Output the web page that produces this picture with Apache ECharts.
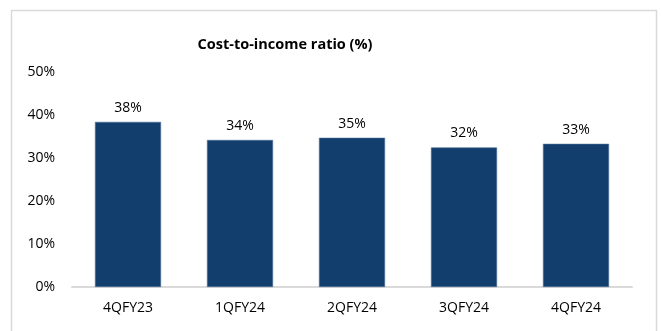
<!DOCTYPE html>
<html><head><meta charset="utf-8">
<script src="https://cdn.jsdelivr.net/npm/echarts@6/dist/echarts.min.js"></script>
<style>html,body{margin:0;padding:0;background:#fff}#c{width:662px;height:331px}</style>
</head><body><div id="c"></div>
<script>
const categories = ['4QFY23','1QFY24','2QFY24','3QFY24','4QFY24'];
const costToIncome = [38.4, 34.2, 34.7, 32.45, 33.3];
const yTicks = [0, 10, 20, 30, 40, 50];
const FONT = '"Open Sans", sans-serif';
const chart = echarts.init(document.getElementById('c'));
chart.setOption({
  animation: false,
  backgroundColor: '#fff',
  graphic: [{type:'rect', shape:{x:11.5,y:10.5,width:645,height:340}, style:{fill:'none', stroke:'#D9D9D9', lineWidth:1.5}, silent:true}],
  title: {text:'Cost-to-income ratio (%)', left:280, top:32, textAlign:'center',
    textStyle:{fontFamily:FONT, fontSize:14.5, fontWeight:'bold', color:'#000'}},
  grid: {left:72, right:30, top:72, bottom:44},
  xAxis: {type:'category', data:categories,
    axisLine:{lineStyle:{color:'#D9D9D9', width:2}}, axisTick:{show:false},
    axisLabel:{fontFamily:FONT, fontSize:14, color:'#000', margin:14}},
  yAxis: {type:'value', min:yTicks[0], max:yTicks[yTicks.length-1], interval:10,
    splitLine:{show:false}, axisLine:{show:false}, axisTick:{show:false},
    axisLabel:{fontFamily:FONT, fontSize:14, color:'#000', margin:17, formatter: v => v + '%'}},
  series: [{type:'bar', data:costToIncome, barWidth:'59%',
    itemStyle:{color:'#113E6D', borderColor:'#4F6F96', borderWidth:0.6},
    label:{show:true, position:'top', distance:7, fontFamily:FONT, fontSize:14, color:'#000',
      formatter: p => Math.round(p.value) + '%'}}]
});
</script></body></html>
